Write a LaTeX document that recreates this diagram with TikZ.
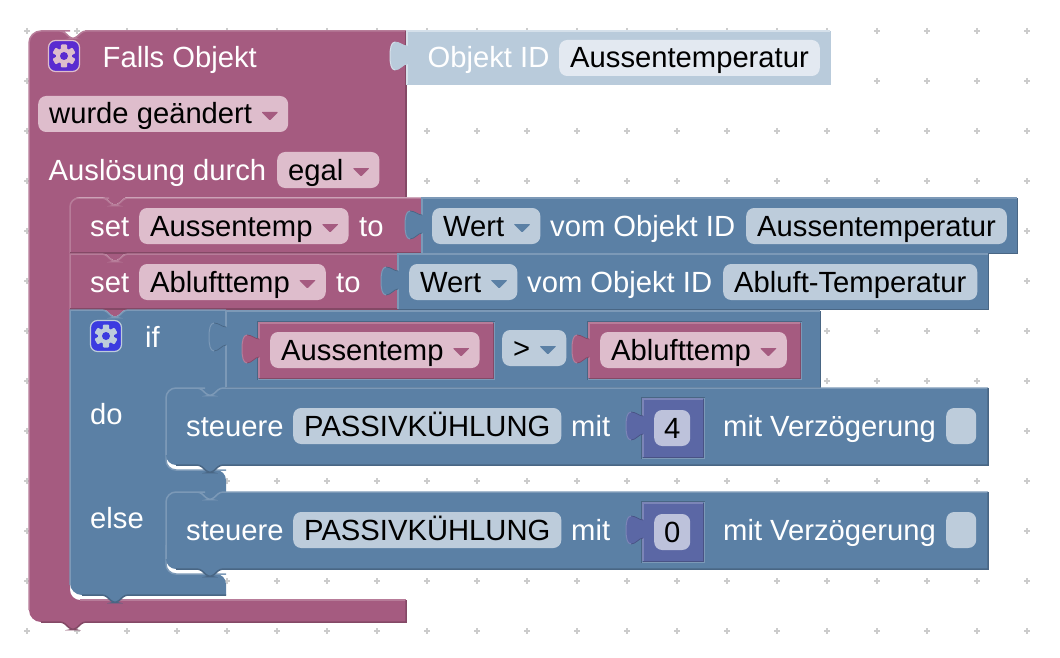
\documentclass[tikz,border=0pt]{standalone}
\usepackage{fontspec}
\setmainfont{Liberation Sans}
\definecolor{pinkfill}{HTML}{A55B80}
\definecolor{pinkdark}{HTML}{844966}
\definecolor{pinklight}{HTML}{B77C99}
\definecolor{pinkfield}{HTML}{DEBDCC}
\definecolor{bluefill}{HTML}{5B80A5}
\definecolor{bluedark}{HTML}{496684}
\definecolor{bluelight}{HTML}{7C99B7}
\definecolor{bluefield}{HTML}{BDCCDB}
\definecolor{purplefill}{HTML}{5B67A5}
\definecolor{purpledark}{HTML}{495284}
\definecolor{purplelight}{HTML}{7C85B7}
\definecolor{purplefield}{HTML}{BDC2DB}
\definecolor{shadowfill}{HTML}{B9CBDB}
\definecolor{shadowdark}{HTML}{B9CBDB}
\definecolor{shadowlight}{HTML}{D5E0EA}
\definecolor{shadowfield}{HTML}{E3E9F1}
\definecolor{gridmark}{HTML}{CCCCCC}
\definecolor{gearpink}{HTML}{5A2BD0}
\definecolor{gearblue}{HTML}{3B3BE0}
\newcommand{\blockfont}{\fontsize{29.2}{32}\selectfont}
\newcommand{\notchtop}{[rounded corners=3pt] -- ++(5,0) -- ++(8,7.5) -- ++(4,0) -- ++(8,-7.5) -- ++(5,0) [sharp corners]}
\newcommand{\notchback}{[rounded corners=3pt] -- ++(-5,0) -- ++(-8,7.5) -- ++(-4,0) -- ++(-8,-7.5) -- ++(-5,0) [sharp corners]}
\newcommand{\rectblock}[5]{
	\fill[#5fill] (#1,#2) rectangle (#3,#4);
	\draw[edge, #5light] (#1,#4) -- (#1,#2) -- (#3,#2);
	\draw[line width=1pt, #5dark] (#3,#2) -- (#3,#4) -- (#1,#4);
}
\newcommand{\rectsocket}[5]{
	\draw[edge, #5dark] (#1-1.5,#4+1.5) -- (#1-1.5,#2-1.5) -- (#3+1.5,#2-1.5);
	\draw[edge, #5light] (#3+1.5,#2-1.5) -- (#3+1.5,#4+1.5) -- (#1-1.5,#4+1.5);
}
\newcommand{\puzzletab}[3]{
	\begin{scope}[shift={(#1,#2)}]
		\fill[#3fill] (1,17) .. controls (-4,17) and (-7,13) .. (-12,13) .. controls (-16,13) and (-17,20) .. (-17,27) .. controls (-17,34) and (-16,41) .. (-12,41) .. controls (-7,41) and (-4,35) .. (1,35) -- cycle;
		\draw[line width=0.7pt, #3dark] (-12,41) .. controls (-7,41) and (-4,35) .. (0,35);
		\draw[line width=0.7pt, #3dark] (0,17) .. controls (-4,17) and (-7,13) .. (-12,13);
		\draw[line width=1pt, #3light] (-12,13) .. controls (-16,13) and (-17,20) .. (-17,27) .. controls (-17,34) and (-16,41) .. (-12,41);
	\end{scope}
}
\newcommand{\droparrow}[2]{
	\fill[#2, rounded corners=1pt] ([shift={(-27,-2)}]#1.east) -- ([shift={(-10,-2)}]#1.east) -- ([shift={(-18.5,6.5)}]#1.east) -- cycle;
}
\newcommand{\gearicon}[5]{
	\node[gearbox, fill=#4, draw=#5] at (#2,#3) (#1) {};
	\foreach \toothangle in {0,60,...,300}
		\fill[#5, shift={(#2,#3)}, rotate=\toothangle, rounded corners=1pt] (-3.2,-11.5) rectangle (3.2,0);
	\fill[#5] (#2,#3) circle[radius=8];
	\fill[#4] (#2,#3) circle[radius=4];
}
\begin{document}
\begin{tikzpicture}[x=1pt, y=-1pt,
	edge/.style={line width=1.5pt},
	gearbox/.style={rounded corners=7pt, minimum size=31pt, inner sep=0pt, line width=1.2pt},
	blocktext/.style={text=white, anchor=base west, inner sep=0pt, font=\blockfont},
	field/.style={rounded corners=8pt, anchor=base west, inner xsep=11pt, inner ysep=2pt, text height=26pt, text depth=6pt, text=black, font=\blockfont},
	pinkdrop/.style={field, fill=pinkfield, execute at end node=\hspace*{25pt}},
	bluedrop/.style={field, fill=bluefield, execute at end node=\hspace*{25pt}},
	bluebox/.style={field, fill=bluefield},
	shadowbox/.style={field, fill=shadowfield},
	numberbox/.style={field, fill=purplefield, inner xsep=0pt, minimum width=36pt},
	emptybox/.style={field, fill=bluefield, inner xsep=0pt, minimum width=30pt}]
	\useasboundingbox (0,0) rectangle (1060,658);

	\foreach \gx in {27,77,...,1027}
		\foreach \gy in {31,81,...,631} {
			\draw[gridmark, line width=1.2pt] (\gx-3,\gy) -- (\gx+3,\gy);
			\draw[gridmark, line width=1.2pt] (\gx,\gy-3) -- (\gx,\gy+3);
		}

	\fill[pinkfill] (29,400) [rounded corners=12pt] -- (29,31) -- (58,31) \notchtop -- (406,31) -- (406,197) -- (130,197) \notchback [rounded corners=10pt] -- (70,197) -- (70,600) [sharp corners] -- (406,600) -- (406,622) -- (88,622) \notchback [rounded corners=12pt] -- (29,622) -- cycle;
	\draw[edge, pinklight] (29,610) [rounded corners=12pt] -- (29,31) -- (58,31) \notchtop -- (406,31);
	\draw[edge, pinklight] (80,600) -- (406,600);
	\draw[edge, pinkdark] (406,31) -- (406,197);
	\draw[edge, pinkdark] (406,600) -- (406,622) -- (88,622) \notchback -- (41,622);
	\gearicon{gearfalls}{64}{56}{gearpink}{pinkfield}
	\rectblock{407}{31}{830}{85}{shadow}
	\puzzletab{407}{29}{shadow}

	\node[blocktext] at (102.5,68) (fallslabel) {Falls Objekt};
	\node[blocktext] at (427.5,68) (idlabel) {Objekt ID};
	\node[shadowbox] at (559,68) (idfield) {Aussentemperatur};
	\node[pinkdrop] at (38,124) (changefield) {wurde geändert};
	\droparrow{changefield}{pinkfill}
	\node[blocktext] at (48.5,180) (triggerlabel) {Auslösung durch};
	\node[pinkdrop] at (277,180) (triggerfield) {egal};
	\droparrow{triggerfield}{pinkfill}

	\fill[pinkfill] (70,225) [rounded corners=9pt] -- (70,198) -- (100,198) [sharp corners] \notchtop -- (421,198) -- (421,253) -- (130,253) \notchback -- (70,253) -- cycle;
	\draw[edge, pinklight] (70,253) -- (70,225) [rounded corners=9pt] -- (70,198) -- (100,198) [sharp corners] \notchtop -- (421,198);
	\draw[edge, pinkdark] (421,253) -- (70,253);
	\fill[pinkfill] (70,254) -- (100,254) \notchtop -- (398,254) -- (398,309) -- (130,309) \notchback -- (70,309) -- cycle;
	\draw[edge, pinklight] (70,309) -- (70,254) -- (100,254) \notchtop -- (398,254);
	\draw[edge, pinkdark] (398,309) -- (70,309);
	\node[blocktext] at (90,236) (setaussen) {set};
	\node[pinkdrop] at (139,236) (aussenvar) {Aussentemp};
	\droparrow{aussenvar}{pinkfill}
	\node[blocktext] at (359,236) (toaussen) {to};
	\node[blocktext] at (90,292) (setabluft) {set};
	\node[pinkdrop] at (139,292) (abluftvar) {Ablufttemp};
	\droparrow{abluftvar}{pinkfill}
	\node[blocktext] at (336,292) (toabluft) {to};

	\rectblock{422}{198}{1017}{253}{blue}
	\puzzletab{422}{198}{blue}
	\node[bluedrop] at (432,236) (wertaussen) {Wert};
	\droparrow{wertaussen}{bluefill}
	\node[blocktext] at (550,236) (vomaussen) {vom Objekt ID};
	\node[bluebox] at (746,236) (idaussen) {Aussentemperatur};
	\rectblock{398}{254}{988}{309}{blue}
	\puzzletab{398}{254}{blue}
	\node[bluedrop] at (409,292) (wertabluft) {Wert};
	\droparrow{wertabluft}{bluefill}
	\node[blocktext] at (527,292) (vomabluft) {vom Objekt ID};
	\node[bluebox] at (723,292) (idabluft) {Abluft-Temperatur};

	\fill[bluefill] (70,450) -- (70,310) -- (100,310) \notchtop -- (226,310) -- (226,388) -- (225,388) \notchback [rounded corners=10pt] -- (166,388) -- (166,470) -- (226,470) [sharp corners] -- (226,492) -- (225,492) \notchback [rounded corners=10pt] -- (166,492) -- (166,574) -- (226,574) [sharp corners] -- (226,595) -- (130,595) \notchback [rounded corners=12pt] -- (70,595) -- cycle;
	\draw[edge, bluelight] (70,585) -- (70,310) -- (100,310) \notchtop -- (226,310);
	\draw[edge, bluelight] (166,440) [rounded corners=10pt] -- (166,470) -- (226,470);
	\draw[edge, bluelight] (166,545) [rounded corners=10pt] -- (166,574) -- (226,574);
	\draw[edge, bluedark] (226,595) -- (130,595) \notchback -- (82,595);
	\gearicon{gearif}{106}{336}{gearblue}{bluefield}
	\node[blocktext] at (145,347) (iflabel) {if};
	\node[blocktext] at (90,424) (dolabel) {do};
	\node[blocktext] at (90,528) (elselabel) {else};

	\rectblock{226}{311}{820}{387}{blue}
	\puzzletab{226}{310}{blue}
	\rectsocket{259}{323}{493}{378}{blue}
	\rectblock{259}{323}{493}{378}{pink}
	\puzzletab{259}{322}{pink}
	\node[pinkdrop] at (270,360) (leftvar) {Aussentemp};
	\droparrow{leftvar}{pinkfill}
	\node[bluedrop] at (502,358) (compareop) {>};
	\droparrow{compareop}{bluefill}
	\rectsocket{589}{323}{800}{378}{blue}
	\rectblock{589}{323}{800}{378}{pink}
	\puzzletab{589}{322}{pink}
	\node[pinkdrop] at (600,360) (rightvar) {Ablufttemp};
	\droparrow{rightvar}{pinkfill}

	\foreach \rowtop/\rowname/\rowvalue in {388/do/4, 492/else/0} {
		\fill[bluefill] (166,\rowtop+30) [rounded corners=10pt] -- (166,\rowtop) -- (195,\rowtop) [sharp corners] \notchtop -- (988,\rowtop) -- (988,\rowtop+77) -- (225,\rowtop+77) \notchback [rounded corners=10pt] -- (166,\rowtop+77) -- cycle;
		\draw[edge, bluelight] (166,\rowtop+67) -- (166,\rowtop+30) [rounded corners=10pt] -- (166,\rowtop) -- (195,\rowtop) [sharp corners] \notchtop -- (988,\rowtop);
		\draw[edge, bluedark] (988,\rowtop) -- (988,\rowtop+77) -- (225,\rowtop+77) \notchback -- (176,\rowtop+77);
		\node[blocktext] at (186,\rowtop+48) (steuere\rowname) {steuere};
		\node[bluebox] at (293,\rowtop+48) (passiv\rowname) {PASSIVKÜHLUNG};
		\node[blocktext] at (571,\rowtop+48) (mit\rowname) {mit};
		\rectsocket{643}{\rowtop+11}{703}{\rowtop+69}{blue}
		\rectblock{643}{\rowtop+11}{703}{\rowtop+69}{purple}
		\puzzletab{643}{\rowtop+11}{purple}
		\node[numberbox] at (654,\rowtop+50) (value\rowname) {\rowvalue};
		\node[blocktext] at (723,\rowtop+48) (delay\rowname) {mit Verzögerung};
		\node[emptybox] at (946,\rowtop+48) (delayfield\rowname) {};
	}
\end{tikzpicture}
\end{document}
